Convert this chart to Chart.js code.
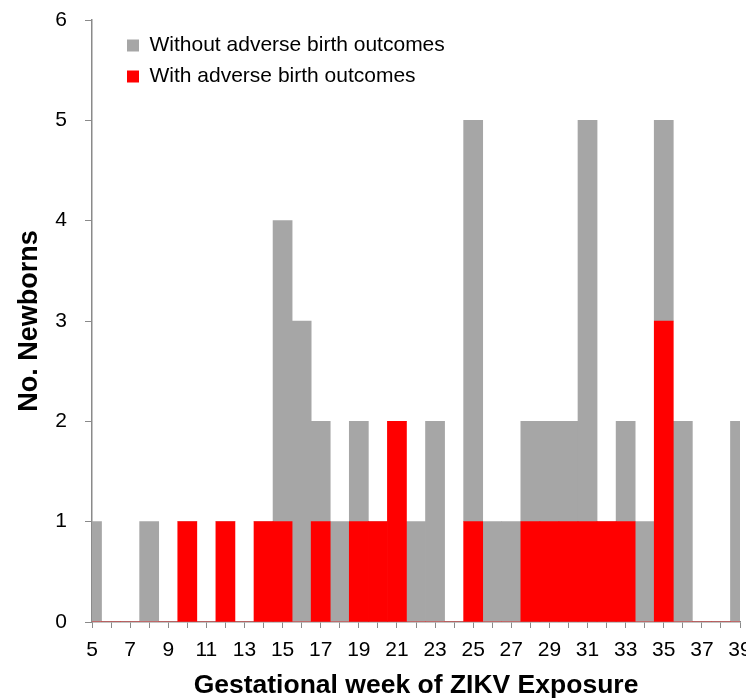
<!DOCTYPE html>
<html>
<head>
<meta charset="utf-8">
<script src="https://cdn.jsdelivr.net/npm/chart.js@4"></script>
<style>
  html, body { margin: 0; padding: 0; background: #fff; overflow: hidden; }
  #wrap { width: 746px; height: 700px; }
</style>
</head>
<body>
<div id="wrap"><canvas id="bar-chart"></canvas></div>
<script>
// gestational week of exposure
const weeks = ['5','6','7','8','9','10','11','12','13','14','15','16','17','18','19','20','21','22',
  '23','24','25','26','27','28','29','30','31','32','33','34','35','36','37','38','39'];
// newborns with adverse birth outcomes (red, bottom of stack)
const withAdverse = [0,0,0,0,0,1,0,1,0,1,1,0,1,0,1,1,2,0,0,0,1,0,0,1,1,1,1,1,1,0,3,0,0,0,0];
// newborns without adverse birth outcomes (grey, on top)
const withoutAdverse = [1,0,0,1,0,0,0,0,0,0,3,3,1,1,1,0,0,1,2,0,4,1,1,1,1,1,4,0,1,1,2,2,0,0,2];
const yTicks = [0, 1, 2, 3, 4, 5, 6];

const FONT = "'Liberation Sans', Arial, Helvetica, sans-serif";
Chart.defaults.font.family = FONT;
Chart.defaults.color = '#000';

// move the legend into the upper left corner of the plot
const legendSpot = {
  id: 'legendSpot',
  afterLayout(chart) {
    const lg = chart.legend, area = chart.chartArea;
    lg.left = area.left + 25;
    lg.top = area.top + 5;
  }
};

new Chart(document.getElementById('bar-chart'), {
  type: 'bar',
  data: {
    labels: weeks,
    datasets: [
      {
        label: 'With adverse birth outcomes',
        data: withAdverse,
        backgroundColor: '#ff0000',
        borderWidth: 0,
        clip: 0
      },
      {
        label: 'Without adverse birth outcomes',
        data: withoutAdverse,
        backgroundColor: '#a6a6a6',
        borderWidth: 0,
        clip: 0
      }
    ]
  },
  options: {
    responsive: true,
    maintainAspectRatio: false,
    animation: false,
    layout: { padding: { top: 20, left: 0, right: 6, bottom: 0 } },
    datasets: { bar: { barPercentage: 1, categoryPercentage: 1 } },
    plugins: {
      tooltip: { enabled: false },
      legend: {
        position: 'chartArea',
        align: 'start',
        reverse: true,
        labels: {
          boxWidth: 12,
          boxHeight: 12,
          padding: 10,
          color: '#000',
          font: { size: 21 }
        }
      }
    },
    scales: {
      x: {
        stacked: true,
        offset: false,
        afterFit: (s) => { s.height = 78; s.paddingLeft = 0; s.paddingRight = 0; },
        grid: { offset: false, drawOnChartArea: false, drawTicks: true, tickLength: 6, color: '#8a8a8a' },
        border: { display: true, color: '#8a8a8a', width: 1.5 },
        ticks: {
          autoSkip: false,
          maxRotation: 0,
          padding: 10,
          font: { size: 21 },
          callback: (v, i) => (Number(weeks[i]) % 2 ? weeks[i] : '')
        },
        title: {
          display: true,
          text: 'Gestational week of ZIKV Exposure',
          font: { size: 26.5, weight: 'bold' },
          padding: { top: 0, bottom: -2 }
        }
      },
      y: {
        stacked: true,
        min: yTicks[0],
        max: yTicks[yTicks.length - 1],
        afterFit: (s) => { s.width = 92; s.paddingTop = 0; s.paddingBottom = 0; },
        grid: { drawOnChartArea: false, drawTicks: true, tickLength: 7, color: '#8a8a8a' },
        border: { display: true, color: '#8a8a8a', width: 1.5 },
        ticks: { stepSize: 1, padding: 18, font: { size: 21 } },
        title: {
          display: true,
          text: 'No. Newborns',
          font: { size: 27, weight: 'bold' },
          padding: { top: 13, bottom: 0 }
        }
      }
    }
  },
  plugins: [legendSpot]
});
</script>
</body>
</html>
